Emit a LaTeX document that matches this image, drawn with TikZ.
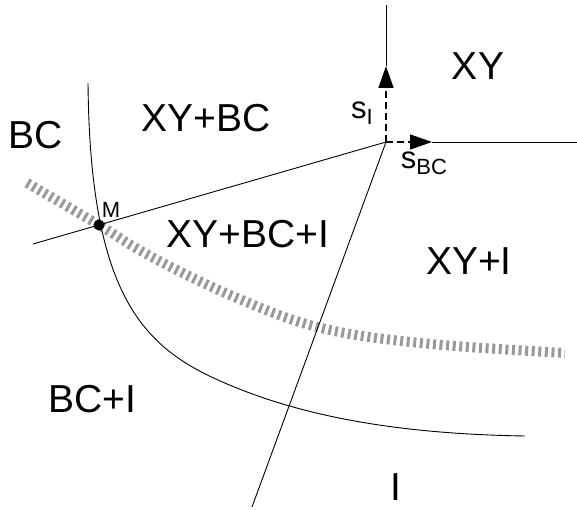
\documentclass[tikz,border=0pt]{standalone}
\usepackage{fontspec}
\setmainfont{Liberation Sans}
\usetikzlibrary{arrows.meta}

\newcommand{\bigtext}{\fontsize{39}{39}\selectfont}
\newcommand{\subvar}[1]{{\fontsize{31}{31}\selectfont s}{\fontsize{22}{22}\selectfont\raisebox{-6pt}{#1}}}

\begin{document}
\begin{tikzpicture}[
  x=1pt, y=-1pt,
  border/.style={line width=0.9pt},
  vec/.style={line width=1.6pt, dash pattern=on 7pt off 4pt,
    -{Triangle[length=22pt, width=15pt]}},
  band/.style={line width=10pt, gray!80, dash pattern=on 3pt off 3.6pt},
  region/.style={font=\bigtext, inner sep=0pt},
  dot/.style={circle, fill, inner sep=0pt, minimum size=11pt}
]
  \useasboundingbox (0,0) rectangle (577,510);
  % points
  \coordinate (P) at (386,142);
  \coordinate (top) at (386,5);
  \coordinate (right) at (577,142);
  \coordinate (left) at (33,244);
  \coordinate (bottom) at (252,507);
  \coordinate (tipI) at (386,66);
  \coordinate (tipBC) at (432,142);
  \coordinate (ctop) at (88,83);
  \coordinate (cmid) at (218,380);
  \coordinate (cend) at (525,436);
  %
  \draw[band] plot[smooth, tension=0.6] coordinates
    {(27,183) (99,225) (150,256) (230,295) (317,327) (420,343) (565,353)};
  %
  \draw[border] (ctop) .. controls (90,290) and (140,345) .. (cmid)
    .. controls (300,417) and (400,434) .. (cend);
  \draw[border] (left) -- (P);
  \draw[border] (P) -- (bottom);
  \draw[border] (top) -- (tipI);
  \draw[border] (tipBC) -- (right);
  \draw[vec] (P) -- (tipI);
  \draw[vec] (P) -- (tipBC);
  %
  \node[dot] (M) at (99,225) {};
  \node[font=\fontsize{22}{22}\selectfont, inner sep=0pt] (Mlab) at (111,210) {M};
  %
  \node[inner sep=0pt] (sI) at (362,113) {\subvar{I}};
  \node[inner sep=0pt] (sBC) at (424,163) {\subvar{BC}};
  %
  \node[region] (XY) at (478,66) {XY};
  \node[region] (XYBC) at (206,118) {XY+BC};
  \node[region] (BC) at (36,135) {BC};
  \node[region] (XYBCI) at (248,234) {XY+BC+I};
  \node[region] (XYI) at (469,261) {XY+I};
  \node[region] (BCI) at (92,399) {BC+I};
  \node[region] (I) at (396,487) {I};
\end{tikzpicture}
\end{document}
